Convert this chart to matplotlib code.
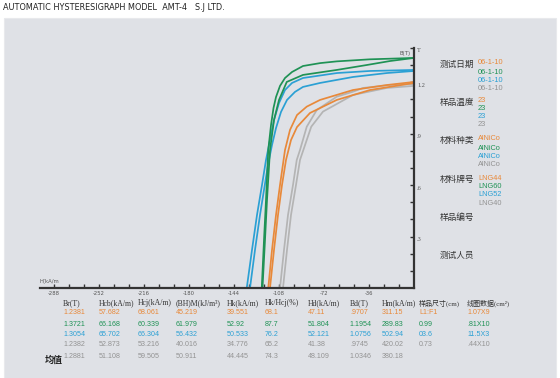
import matplotlib
matplotlib.use("Agg")
import matplotlib.pyplot as plt
from matplotlib.patches import Rectangle
from matplotlib import transforms

# ---------------- data ----------------
# demagnetization curves (H in kA/m, B in T)
orange_h1 = [-116.6, -113.6, -110.4, -107.2, -103.2, -99.2, -93.6, -85.8, -75.2, -48.8, -21.8, 0]
orange_b1 = [0, 0.222, 0.426, 0.601, 0.805, 0.922, 1.009, 1.058, 1.097, 1.155, 1.184, 1.202]
orange_h2 = [-115.2, -112.0, -108.8, -105.6, -102.4, -98.4, -93.6, -83.2, -61.8, -35.2, 0]
orange_b2 = [0, 0.222, 0.426, 0.601, 0.747, 0.863, 0.939, 1.021, 1.097, 1.155, 1.196]

green_h1 = [-121.8, -120.0, -118.4, -116.6, -114.4, -112.4, -110.4, -107.2, -103.2, -97.6, -88.8, -75.0, -61.8, -35.2, 0]
green_b1 = [0, 0.28, 0.513, 0.805, 0.95, 1.05, 1.114, 1.179, 1.225, 1.26, 1.295, 1.312, 1.322, 1.334, 1.342]
green_h2 = [-121.2, -119.2, -117.6, -115.2, -112.0, -108.0, -101.8, -88.8, -61.8, -37.6, -19.2, 0]
green_b2 = [0, 0.28, 0.513, 0.805, 0.980, 1.097, 1.202, 1.243, 1.272, 1.301, 1.324, 1.342]

blue_h1 = [-133.8, -129.6, -125.6, -121.6, -118.4, -115.2, -112.0, -108.0, -103.2, -97.6, -88.8, -61.6, -35.2, 0]
blue_b1 = [0, 0.222, 0.426, 0.601, 0.747, 0.863, 0.980, 1.079, 1.155, 1.196, 1.225, 1.254, 1.266, 1.272]
blue_h2 = [-131.2, -127.2, -123.2, -120.0, -116.8, -113.6, -110.4, -106.4, -101.6, -95.2, -88.8, -75.2, -48.8, -21.6, 0]
blue_b2 = [0, 0.222, 0.426, 0.572, 0.718, 0.834, 0.933, 1.027, 1.097, 1.144, 1.173, 1.196, 1.231, 1.254, 1.266]

gray_h1 = [-107.2, -104.0, -100.8, -96.8, -93.8, -91.2, -85.8, -77.8, -61.8, -48.8, -40.8, -19.2, 0]
gray_b1 = [0, 0.222, 0.426, 0.601, 0.747, 0.805, 0.941, 1.038, 1.116, 1.145, 1.167, 1.184, 1.190]
gray_h2 = [-104.8, -101.6, -98.4, -94.4, -91.2, -82.2, -72.8, -48.8, -21.8, 0]
gray_b2 = [0, 0.222, 0.426, 0.601, 0.747, 0.941, 1.029, 1.126, 1.167, 1.179]

x_tick_values = [-288, -252, -216, -180, -144, -108, -72, -36]
x_tick_labels = ["-288", "-252", "-216", "-180", "-144", "-108", "-72", "-36"]
y_label_values = [0.3, 0.6, 0.9, 1.2, 1.4]
y_label_texts = [".3", ".6", ".9", "1.2", "T"]

info_labels = ["测试日期", "样品温度", "材料种类", "材料牌号", "样品编号", "测试人员"]
test_dates = ["06-1-10", "06-1-10", "06-1-10", "06-1-10"]
temperatures = ["23", "23", "23", "23"]
materials = ["AlNiCo", "AlNiCo", "AlNiCo", "AlNiCo"]
grades = ["LNG44", "LNG60", "LNG52", "LNG40"]

table_headers = ["Br(T)", "Hcb(kA/m)", "Hcj(kA/m)", "(BH)M(kJ/m³)", "Hk(kA/m)", "Hk/Hcj(%)",
                 "Hd(kA/m)", "Bd(T)", "Hm(kA/m)", "样品尺寸(cm)", "线圈数据(cm²)"]
row_orange = ["1.2381", "57.682", "68.061", "45.219", "39.551", "68.1", "47.11", ".9707", "311.15", "L1:F1", "1.07X9"]
row_green = ["1.3721", "66.168", "60.339", "61.979", "52.92", "87.7", "51.804", "1.1954", "289.83", "0.99", ".81X10"]
row_blue = ["1.3054", "65.702", "66.304", "56.432", "50.533", "76.2", "52.121", "1.0756", "502.94", "03.6", "11.5X3"]
row_gray = ["1.2382", "52.873", "53.216", "40.016", "34.776", "65.2", "41.38", ".9745", "420.02", "0.73", ".44X10"]
row_mean = ["1.2881", "51.108", "59.505", "50.911", "44.445", "74.3", "48.109", "1.0346", "380.18"]

# ---------------- style ----------------
C_OR = "#e8893a"
C_GR = "#1f9255"
C_BL = "#2ba0d4"
C_GY = "#b4b4b4"
C_GYT = "#939393"
PANEL = "#dfe1e6"
CJK = ["Noto Sans CJK SC", "DejaVu Sans"]
NUMF = ["Liberation Sans", "DejaVu Sans"]

W, H = 560, 378
fig = plt.figure(figsize=(W / 100, H / 100), dpi=100)
fig.patch.set_facecolor("white")


def fx(x):
    return x / W


def fy(y):
    return 1 - y / H


fig.patches.append(Rectangle((fx(4), 0), fx(552), fy(18), transform=fig.transFigure,
                             facecolor=PANEL, edgecolor="#e8e9ec", lw=0.8, zorder=-5))

fig.text(fx(3), fy(8), "AUTOMATIC HYSTERESIGRAPH MODEL  AMT-4   S.J LTD.",
         family=["Liberation Sans Narrow", "DejaVu Sans"], fontsize=5.9, color="#222222",
         va="center", ha="left")

ax = fig.add_axes([fx(40), fy(288), fx(414 - 40), (288 - 48) / H])
ax.set_facecolor("none")
ax.set_zorder(2)
ax.set_xlim(-299.2, 0)
ax.set_ylim(0, 1.4)

for hh, bb, c in [(gray_h1, gray_b1, C_GY), (gray_h2, gray_b2, C_GY),
                  (orange_h1, orange_b1, C_OR), (orange_h2, orange_b2, C_OR),
                  (blue_h1, blue_b1, C_BL), (blue_h2, blue_b2, C_BL),
                  (green_h1, green_b1, C_GR), (green_h2, green_b2, C_GR)]:
    ax.plot(hh, bb, color=c, lw=1.25, solid_capstyle="round", solid_joinstyle="round",
            clip_on=False)

for s in ["left", "top"]:
    ax.spines[s].set_visible(False)
for s in ["bottom", "right"]:
    ax.spines[s].set_color("#333333")
    ax.spines[s].set_linewidth(1.6)

ax.yaxis.tick_right()
ax.set_xticks(x_tick_values)
ax.set_xticklabels(x_tick_labels)
ax.set_xticks([-288 + 12 * i for i in range(24)], minor=True)
ax.set_yticks([0.1 * i for i in range(1, 15)])
ax.set_yticklabels([])
ax.tick_params(axis="x", which="both", direction="in", length=3, width=1.0, color="#333333",
               labelsize=3.8, labelcolor="#555555", pad=2)
ax.tick_params(axis="y", which="both", direction="in", length=3, width=1.0, color="#333333")

off = transforms.offset_copy(ax.get_yaxis_transform(), fig=fig, x=3, y=-3, units="dots")
for v, t in zip(y_label_values, y_label_texts):
    ax.text(1.0, v, t, transform=off, fontsize=4.5, color="#555555", ha="left", va="center",
            family="Liberation Serif")

fig.text(fx(40), fy(281), "H(kA/m", fontsize=3.8, color="#555555", ha="left", va="center")
fig.text(fx(400), fy(54), "B(T)", fontsize=3.8, color="#555555", ha="left", va="center", zorder=5)

# right info block
label_y = [64, 102, 140, 179, 217, 255]
for t, yy in zip(info_labels, label_y):
    fig.text(fx(440), fy(yy), t, family=CJK, fontsize=6.2, color="#333333",
             ha="left", va="center")

cols4 = [C_OR, C_GR, C_BL, C_GYT]
for vals, ys in [(test_dates, [63, 72, 80, 88]), (temperatures, [101, 109, 117, 125]),
                 (materials, [139, 148, 156, 164]), (grades, [178, 187, 194, 203])]:
    for v, yy, c in zip(vals, ys, cols4):
        fig.text(fx(478), fy(yy), v, family=NUMF, fontsize=5.3, color=c, ha="left", va="center")

# table
col_x = [63, 99, 138, 176, 227, 265, 308, 350, 382, 419, 467]
for i, (t, xx) in enumerate(zip(table_headers, col_x)):
    fig.text(fx(xx), fy(303), t, family=["Liberation Serif", "Noto Sans CJK SC"],
             fontsize=5.6 if i < 9 else 5.0,
             color="#333333", ha="left", va="center")

for row, yy, c in [(row_orange, 313, C_OR), (row_green, 324, C_GR), (row_blue, 335, C_BL),
                   (row_gray, 345, C_GYT), (row_mean, 356, C_GYT)]:
    for v, xx in zip(row, col_x):
        fig.text(fx(xx), fy(yy), v, family=NUMF, fontsize=5.1, color=c, ha="left", va="center")

fig.text(fx(45), fy(360), "均值", family=CJK, fontsize=6.5, color="#222222",
         ha="left", va="center", weight="bold")

fig.savefig("out.png", dpi=100, facecolor="white")
